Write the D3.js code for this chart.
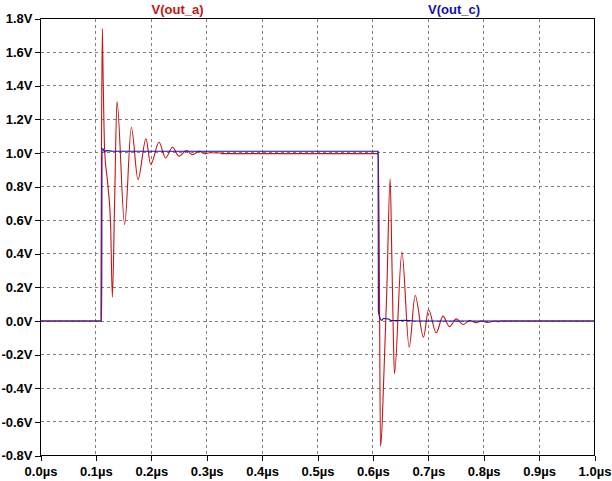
<!DOCTYPE html>
<html>
<head>
<meta charset="utf-8">
<script src="https://cdn.jsdelivr.net/npm/d3@7"></script>
<style>
  html, body { margin: 0; padding: 0; background: #fff; }
  svg { display: block; }
  text { font-family: "Liberation Sans", Arial, sans-serif; font-weight: bold; font-size: 13px; }
</style>
</head>
<body>
<script>
// ---- data (time in µs, voltage in V) ----
const xTicks = [0, 0.1, 0.2, 0.3, 0.4, 0.5, 0.6, 0.7, 0.8, 0.9, 1.0];
const yTicks = [-0.8, -0.6, -0.4, -0.2, 0, 0.2, 0.4, 0.6, 0.8, 1.0, 1.2, 1.4, 1.6, 1.8];
const seriesNames = ["V(out_a)", "V(out_c)"];

const outA_t = [0, 0.1090, 0.1094, 0.1098, 0.1116, 0.1127, 0.1157, 0.1217, 0.1266, 0.1297,
  0.1338, 0.1380, 0.1519, 0.1640, 0.1760, 0.1904, 0.1989, 0.2139, 0.2258, 0.2382,
  0.2501, 0.2635, 0.2743, 0.2863, 0.2966, 0.3056, 0.3237, 0.3270, 0.6094, 0.6112,
  0.6121, 0.6136, 0.6172, 0.6190, 0.6251, 0.6311, 0.6342, 0.6371, 0.6389, 0.6523,
  0.6655, 0.6763, 0.6913, 0.7004, 0.7143, 0.7264, 0.7383, 0.7505, 0.7626, 0.7745,
  0.7848, 0.7969, 0.8060, 0.8210, 0.8270, 0.8300, 1.0];
const outA_v = [0, 0, 0.38, 0.79, 1.74, 1.52, 1.025, 0.806, 0.568, 0.142,
  0.707, 1.306, 0.573, 1.153, 0.842, 1.084, 0.931, 1.064, 0.970, 1.034,
  0.980, 1.015, 0.990, 1.010, 0.995, 1.001, 1.000, 0.996, 0.996, 0.545,
  0.051, -0.746, -0.572, -0.394, 0.180, 0.846, 0.380, -0.116, -0.314, 0.410,
  -0.156, 0.152, -0.096, 0.067, -0.070, 0.029, -0.033, 0.013, -0.021, 0.003,
  -0.010, 0.000, -0.008, 0.000, -0.004, 0, 0];

const outC_t = [0, 0.1105, 0.1110, 0.1127, 0.1157, 0.1188, 0.1300, 0.6094, 0.6099, 0.6125,
  0.6160, 0.6190, 0.6280, 0.6330, 0.6600, 0.6800, 1.0];
const outC_v = [0, 0, 1.025, 1.025, 1.004, 1.014, 1.0105, 1.0105, 0.06, 0.02,
  0.004, 0.015, 0.012, 0.003, 0.004, 0.0, 0];

// ---- layout ----
const W = 612, H = 481;
const L = 40.5, R = 594.5, T = 18.5, B = 455.5;
const redC = "#c81414", blueC = "#1010b0";

const svg = d3.select("body").append("svg").attr("width", W).attr("height", H);

const x = d3.scaleLinear().domain([0, 1.0]).range([L, R]);
const y = d3.scaleLinear().domain([-0.8, 1.8]).range([B, T]);

// grid
const grid = svg.append("g").attr("stroke", "#808080").attr("stroke-width", 1)
  .attr("stroke-dasharray", "3,3").attr("shape-rendering", "crispEdges");
grid.selectAll(".gx").data(xTicks.slice(1, -1)).join("line")
  .attr("x1", d => Math.round(x(d) - 0.5) + 0.5).attr("x2", d => Math.round(x(d) - 0.5) + 0.5)
  .attr("y1", T).attr("y2", B);
grid.selectAll(".gy").data(yTicks.slice(1, -1)).join("line")
  .attr("y1", d => Math.round(y(d) - 0.5) + 0.5).attr("y2", d => Math.round(y(d) - 0.5) + 0.5)
  .attr("x1", L).attr("x2", R);

// axes
const xAxis = d3.axisBottom(x).tickValues(xTicks).tickSize(5).tickPadding(6)
  .tickFormat(d => d.toFixed(1) + "µs");
const yAxis = d3.axisLeft(y).tickValues(yTicks).tickSize(6).tickPadding(2)
  .tickFormat(d => d.toFixed(1) + "V");

const gx = svg.append("g").attr("transform", `translate(0,${B})`).call(xAxis);
const gy = svg.append("g").attr("transform", `translate(${L},0)`).call(yAxis);
[gx, gy].forEach(g => {
  g.select(".domain").remove();
  g.selectAll("line").attr("stroke", "#000").attr("shape-rendering", "crispEdges");
  g.selectAll("text").attr("fill", "#000").style("font-size", "13px")
    .style("font-family", '"Liberation Sans", Arial, sans-serif').style("font-weight", "bold");
});

// frame
svg.append("rect").attr("x", L).attr("y", T).attr("width", R - L).attr("height", B - T)
  .attr("fill", "none").attr("stroke", "#000").attr("stroke-width", 1)
  .attr("shape-rendering", "crispEdges");

// traces
const line = d3.line().x(d => x(d[0])).y(d => y(d[1])).curve(d3.curveMonotoneX);
const dataA = outA_t.map((t, i) => [t, outA_v[i]]);
const dataC = outC_t.map((t, i) => [t, outC_v[i]]);

svg.append("path").datum(dataA).attr("d", line)
  .attr("fill", "none").attr("stroke", redC).attr("stroke-width", 1.1);
svg.append("path").datum(dataC).attr("d", line)
  .attr("fill", "none").attr("stroke", blueC).attr("stroke-width", 1.1);

// titles
svg.append("text").attr("x", 177.5).attr("y", 13.5).attr("text-anchor", "middle")
  .attr("fill", redC).text(seriesNames[0]);
svg.append("text").attr("x", 454).attr("y", 13.5).attr("text-anchor", "middle")
  .attr("fill", blueC).text(seriesNames[1]);
</script>
</body>
</html>
